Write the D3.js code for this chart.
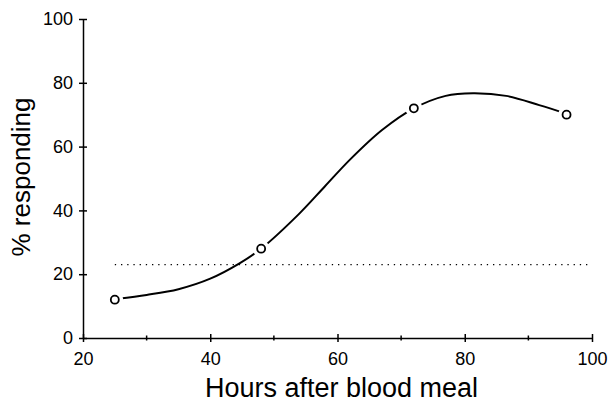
<!DOCTYPE html>
<html>
<head>
<meta charset="utf-8">
<script src="https://cdn.jsdelivr.net/npm/d3@7"></script>
<style>
  body { margin: 0; background: #fff; }
  svg { display: block; font-family: "Liberation Sans", Arial, sans-serif; }
  .axis path, .axis line { stroke: #000; stroke-width: 1.5; }
  .axis text { font-size: 18px; fill: #000; }
</style>
</head>
<body>
<svg id="chart" width="612" height="406"></svg>
<script>
// observed points
var hours = [25, 48, 72, 96];
var responding = [12, 28, 72, 70];
// fitted curve
var fitHours = [25.5, 30, 35, 40, 44.6, 48, 54, 58, 62, 67, 72, 77, 81.3, 86.5, 91.7, 96];
var fitResponding = [12.3, 13.5, 15.3, 18.6, 23.4, 28, 39, 47.5, 56, 65.2, 72, 75.9, 76.7, 75.9, 73, 70.3];
// dotted reference level
var refLevel = 23;
var refHours = [25, 100];
var xTicks = [20, 40, 60, 80, 100];
var xMinor = [30, 50, 70, 90];
var yTicks = [0, 20, 40, 60, 80, 100];

var svg = d3.select("#chart");

var x = d3.scaleLinear().domain([20, 100]).range([83, 592]);
var y = d3.scaleLinear().domain([0, 100]).range([338, 19]);

// x axis
var gx = svg.append("g")
    .attr("class", "axis")
    .attr("transform", "translate(0," + y(0) + ")")
    .call(d3.axisBottom(x).tickValues(xTicks).tickSize(4).tickSizeOuter(0).tickPadding(10));
gx.selectAll(".tick line").attr("y1", -4).attr("y2", 4);
gx.selectAll(".tick text").attr("dy", "0.71em");

gx.selectAll(".minor")
    .data(xMinor)
    .enter().append("line")
    .attr("class", "minor")
    .attr("x1", function (d) { return x(d); })
    .attr("x2", function (d) { return x(d); })
    .attr("y1", -2.5)
    .attr("y2", 2.5);

// y axis
var gy = svg.append("g")
    .attr("class", "axis")
    .attr("transform", "translate(" + x(20) + ",0)")
    .call(d3.axisLeft(y).tickValues(yTicks).tickSize(4).tickSizeOuter(0).tickPadding(6));
gy.selectAll(".tick line").attr("x1", -4).attr("x2", 4);

// dotted line
svg.append("line")
    .attr("x1", x(refHours[0]))
    .attr("x2", x(refHours[1]))
    .attr("y1", y(refLevel))
    .attr("y2", y(refLevel))
    .attr("stroke", "#000")
    .attr("stroke-width", 1.3)
    .attr("stroke-dasharray", "1.3,4.9");

// fitted curve
var fit = fitHours.map(function (h, i) { return [h, fitResponding[i]]; });
var line = d3.line()
    .x(function (d) { return x(d[0]); })
    .y(function (d) { return y(d[1]); })
    .curve(d3.curveCatmullRom);

svg.append("path")
    .datum(fit)
    .attr("d", line)
    .attr("fill", "none")
    .attr("stroke", "#000")
    .attr("stroke-width", 2);

// gaps round the points, then the open circles
var pts = hours.map(function (h, i) { return [h, responding[i]]; });
svg.selectAll(".gap")
    .data(pts)
    .enter().append("circle")
    .attr("class", "gap")
    .attr("cx", function (d) { return x(d[0]); })
    .attr("cy", function (d) { return y(d[1]); })
    .attr("r", 8.5)
    .attr("fill", "#fff");

svg.selectAll(".pt")
    .data(pts)
    .enter().append("circle")
    .attr("class", "pt")
    .attr("cx", function (d) { return x(d[0]); })
    .attr("cy", function (d) { return y(d[1]); })
    .attr("r", 4)
    .attr("fill", "#fff")
    .attr("stroke", "#000")
    .attr("stroke-width", 1.8);

// titles
svg.append("text")
    .attr("x", (x(20) + x(100)) / 2 + 4)
    .attr("y", 397)
    .attr("text-anchor", "middle")
    .attr("font-size", 27)
    .text("Hours after blood meal");

svg.append("text")
    .attr("transform", "translate(30,177)rotate(-90)")
    .attr("text-anchor", "middle")
    .attr("font-size", 26)
    .text("% responding");
</script>
</body>
</html>
